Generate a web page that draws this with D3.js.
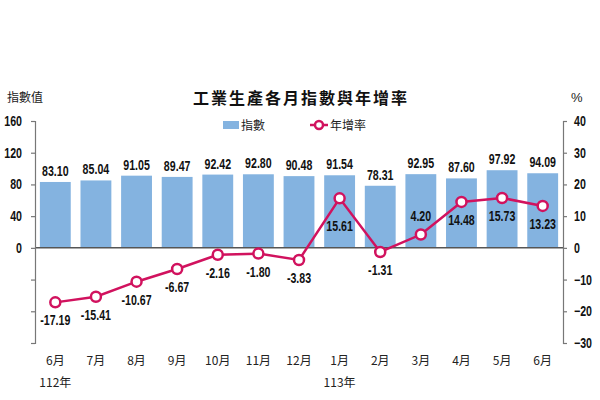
<!DOCTYPE html>
<html>
<head>
<meta charset="utf-8">
<script src="https://cdn.jsdelivr.net/npm/d3@7"></script>
<style>
  body { margin: 0; background: #fff; }
  text { font-family: "Liberation Sans", "Noto Sans CJK TC", sans-serif; }
  .cjk { font-family: "Noto Sans CJK TC", sans-serif; }
</style>
</head>
<body>
<div id="chart"></div>
<script>
// months on the x axis, and the year under the first month of each year
var months = ["6月", "7月", "8月", "9月", "10月", "11月", "12月", "1月", "2月", "3月", "4月", "5月", "6月"];
var years = ["112年", "", "", "", "", "", "", "113年", "", "", "", "", ""];

// index values (bars) and year-on-year growth in % (line)
var indexValues = [83.10, 85.04, 91.05, 89.47, 92.42, 92.80, 90.48, 91.54, 78.31, 92.95, 87.60, 97.92, 94.09];
var growthRates = [-17.19, -15.41, -10.67, -6.67, -2.16, -1.80, -3.83, 15.61, -1.31, 4.20, 14.48, 15.73, 13.23];

var leftTicks = [160, 120, 80, 40, 0, -40, -80, -120];
var rightTicks = [40, 30, 20, 10, 0, -10, -20, -30];

var barColor = "#84b3e0";
var lineColor = "#d1125e";
var axisColor = "#777";
var narrow = 0.76; // squeeze the numbers, the original uses a narrow font

var width = 600, height = 400;
var plotLeft = 35, plotRight = 563, plotTop = 121, plotBottom = 343;

var svg = d3.select("#chart").append("svg")
    .attr("width", width)
    .attr("height", height);

var x = d3.scaleBand()
    .domain(d3.range(months.length))
    .range([plotLeft, plotRight])
    .paddingInner(0.24)
    .paddingOuter(0.12);

var yLeft = d3.scaleLinear().domain([-120, 160]).range([plotBottom, plotTop]);
var yRight = d3.scaleLinear().domain([-30, 40]).range([plotBottom, plotTop]);

function cx(i) { return x(i) + x.bandwidth() / 2; }

// bars
svg.selectAll(".bar")
    .data(indexValues)
    .enter()
    .append("rect")
    .attr("class", "bar")
    .attr("x", function (d, i) { return x(i); })
    .attr("y", function (d) { return yLeft(d); })
    .attr("width", x.bandwidth())
    .attr("height", function (d) { return yLeft(0) - yLeft(d); })
    .attr("fill", barColor);

svg.selectAll(".bar-label")
    .data(indexValues)
    .enter()
    .append("text")
    .attr("class", "bar-label")
    .attr("transform", function (d, i) {
        return "translate(" + cx(i) + "," + (yLeft(d) - 6) + ") scale(" + narrow + ",1)";
    })
    .attr("text-anchor", "middle")
    .attr("font-size", 14)
    .attr("font-weight", "bold")
    .attr("fill", "#111")
    .text(function (d) { return d.toFixed(2); });

// zero line
svg.append("line")
    .attr("x1", plotLeft).attr("x2", plotRight)
    .attr("y1", yLeft(0)).attr("y2", yLeft(0))
    .attr("stroke", "#555")
    .attr("stroke-width", 1.5);

// axes
var axisL = svg.append("g")
    .attr("transform", "translate(" + plotLeft + ",0)")
    .call(d3.axisLeft(yLeft).tickValues(leftTicks).tickSize(4).tickPadding(9)
        .tickFormat(function (d) { return d >= 0 ? d : ""; }));

var axisR = svg.append("g")
    .attr("transform", "translate(" + plotRight + ",0)")
    .call(d3.axisRight(yRight).tickValues(rightTicks).tickSize(4).tickPadding(7));

[axisL, axisR].forEach(function (g) {
    g.select(".domain").attr("stroke", axisColor).attr("stroke-width", 1.2);
    g.selectAll(".tick line").attr("stroke", axisColor).attr("stroke-width", 1.2);
    g.selectAll(".tick text")
        .attr("font-size", 14)
        .attr("font-weight", "bold")
        .attr("fill", "#111")
        .attr("transform", function () {
            return "translate(" + d3.select(this).attr("x") + ",0) scale(" + narrow + ",1)";
        })
        .attr("x", 0);
});

// growth line
var line = d3.line()
    .x(function (d, i) { return cx(i); })
    .y(function (d) { return yRight(d); });

svg.append("path")
    .datum(growthRates)
    .attr("d", line)
    .attr("fill", "none")
    .attr("stroke", lineColor)
    .attr("stroke-width", 2.5);

svg.selectAll(".dot")
    .data(growthRates)
    .enter()
    .append("circle")
    .attr("class", "dot")
    .attr("cx", function (d, i) { return cx(i); })
    .attr("cy", function (d) { return yRight(d); })
    .attr("r", 5)
    .attr("fill", "#fff")
    .attr("stroke", lineColor)
    .attr("stroke-width", 2.5);

// labels mostly sit under the marker; 1月 a bit lower, 3月 above
function rateLabelDy(i) {
    if (i === 9) return -14;
    if (i === 7) return 33;
    return 23;
}

svg.selectAll(".rate-label")
    .data(growthRates)
    .enter()
    .append("text")
    .attr("class", "rate-label")
    .attr("transform", function (d, i) {
        return "translate(" + cx(i) + "," + (yRight(d) + rateLabelDy(i)) + ") scale(" + narrow + ",1)";
    })
    .attr("text-anchor", "middle")
    .attr("font-size", 14)
    .attr("font-weight", "bold")
    .attr("fill", "#111")
    .text(function (d) { return d.toFixed(2); });

// month and year labels
svg.selectAll(".month")
    .data(months)
    .enter()
    .append("text")
    .attr("class", "month cjk")
    .attr("x", function (d, i) { return cx(i); })
    .attr("y", 365)
    .attr("text-anchor", "middle")
    .attr("font-size", 12)
    .attr("fill", "#222")
    .text(function (d) { return d; });

svg.selectAll(".year")
    .data(years)
    .enter()
    .append("text")
    .attr("class", "year cjk")
    .attr("x", function (d, i) { return cx(i); })
    .attr("y", 387)
    .attr("text-anchor", "middle")
    .attr("font-size", 12)
    .attr("fill", "#222")
    .text(function (d) { return d; });

// title and axis captions
svg.append("text")
    .attr("class", "cjk")
    .attr("x", 301)
    .attr("y", 104)
    .attr("text-anchor", "middle")
    .attr("font-size", 16)
    .attr("font-weight", "bold")
    .attr("letter-spacing", 2)
    .attr("fill", "#111")
    .text("工業生產各月指數與年增率");

svg.append("text")
    .attr("class", "cjk")
    .attr("x", 7)
    .attr("y", 102)
    .attr("font-size", 12)
    .attr("fill", "#222")
    .text("指數值");

svg.append("text")
    .attr("x", 571)
    .attr("y", 102)
    .attr("font-size", 13)
    .attr("fill", "#222")
    .text("%");

// legend
var legend = svg.append("g");
legend.append("rect")
    .attr("x", 223).attr("y", 121)
    .attr("width", 16).attr("height", 8)
    .attr("fill", barColor);
legend.append("text")
    .attr("class", "cjk")
    .attr("x", 241).attr("y", 130)
    .attr("font-size", 12)
    .attr("fill", "#222")
    .text("指數");
legend.append("line")
    .attr("x1", 310).attr("x2", 328)
    .attr("y1", 125).attr("y2", 125)
    .attr("stroke", lineColor)
    .attr("stroke-width", 2.5);
legend.append("circle")
    .attr("cx", 319).attr("cy", 125)
    .attr("r", 4)
    .attr("fill", "#fff")
    .attr("stroke", lineColor)
    .attr("stroke-width", 2.5);
legend.append("text")
    .attr("class", "cjk")
    .attr("x", 330).attr("y", 130)
    .attr("font-size", 12)
    .attr("fill", "#222")
    .text("年增率");
</script>
</body>
</html>
